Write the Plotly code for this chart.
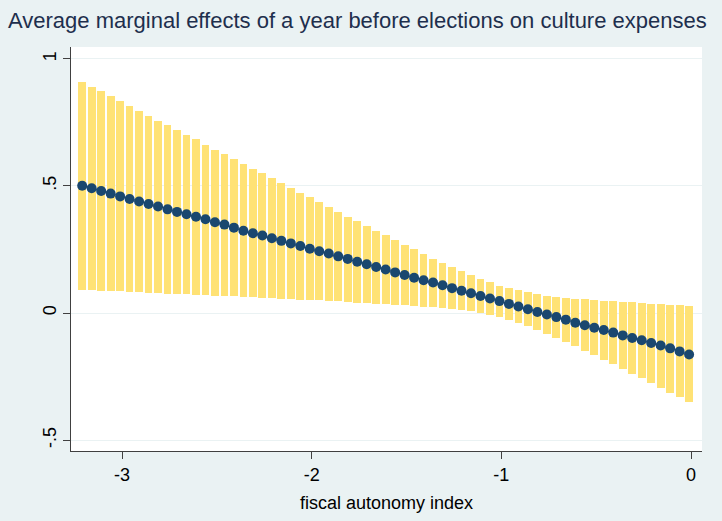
import plotly.graph_objects as go

fiscal_autonomy = [-3.21, -3.16, -3.11, -3.06, -3.01, -2.96, -2.91, -2.86, -2.81, -2.76,
                   -2.71, -2.66, -2.61, -2.56, -2.51, -2.46, -2.41, -2.36, -2.31, -2.26,
                   -2.21, -2.16, -2.11, -2.06, -2.01, -1.96, -1.91, -1.86, -1.81, -1.76,
                   -1.71, -1.66, -1.61, -1.56, -1.51, -1.46, -1.41, -1.36, -1.31, -1.26,
                   -1.21, -1.16, -1.11, -1.06, -1.01, -0.96, -0.91, -0.86, -0.81, -0.76,
                   -0.71, -0.66, -0.61, -0.56, -0.51, -0.46, -0.41, -0.36, -0.31, -0.26,
                   -0.21, -0.16, -0.11, -0.06, -0.01]

effect = [0.501, 0.491, 0.480, 0.470, 0.459, 0.449, 0.439, 0.429, 0.419, 0.408,
          0.398, 0.389, 0.379, 0.369, 0.357, 0.348, 0.336, 0.324, 0.314, 0.305,
          0.294, 0.284, 0.274, 0.264, 0.253, 0.243, 0.234, 0.223, 0.213, 0.202,
          0.192, 0.181, 0.171, 0.160, 0.150, 0.139, 0.129, 0.120, 0.109, 0.098,
          0.088, 0.078, 0.067, 0.057, 0.047, 0.036, 0.026, 0.015, 0.004, -0.006,
          -0.016, -0.026, -0.038, -0.048, -0.058, -0.067, -0.077, -0.088, -0.098, -0.107,
          -0.118, -0.128, -0.139, -0.151, -0.163]

ci_upper = [0.909, 0.891, 0.872, 0.853, 0.833, 0.815, 0.795, 0.777, 0.757, 0.739,
            0.719, 0.701, 0.683, 0.663, 0.643, 0.625, 0.606, 0.587, 0.568, 0.550,
            0.532, 0.511, 0.492, 0.474, 0.456, 0.436, 0.417, 0.398, 0.379, 0.361,
            0.343, 0.324, 0.306, 0.286, 0.269, 0.251, 0.232, 0.214, 0.198, 0.181,
            0.164, 0.148, 0.135, 0.121, 0.108, 0.097, 0.089, 0.081, 0.075, 0.069,
            0.065, 0.061, 0.057, 0.054, 0.051, 0.049, 0.046, 0.045, 0.042, 0.039,
            0.037, 0.034, 0.033, 0.030, 0.029]

ci_lower = [0.092, 0.089, 0.088, 0.087, 0.085, 0.083, 0.081, 0.080, 0.079, 0.076,
            0.075, 0.074, 0.072, 0.071, 0.068, 0.067, 0.066, 0.063, 0.062, 0.059,
            0.058, 0.055, 0.054, 0.053, 0.051, 0.050, 0.047, 0.046, 0.043, 0.041,
            0.039, 0.037, 0.036, 0.033, 0.030, 0.028, 0.025, 0.022, 0.020, 0.016,
            0.012, 0.007, -0.001, -0.009, -0.017, -0.028, -0.039, -0.051, -0.065, -0.081,
            -0.097, -0.114, -0.131, -0.148, -0.167, -0.184, -0.202, -0.220, -0.239, -0.257,
            -0.276, -0.295, -0.313, -0.332, -0.350]

x_ticks = [-3, -2, -1, 0]
x_ticklabels = ["-3", "-2", "-1", "0"]
y_ticks = [-0.5, 0, 0.5, 1]
y_ticklabels = ["-.5", "0", ".5", "1"]

title_text = "Average marginal effects of a year before elections on culture expenses"
x_title = "fiscal autonomy index"

FONT = "Liberation Sans, Arial, sans-serif"
BG = "#EAF2F3"
NAVY = "#1A476F"
GOLD = "#FFE275"

fig = go.Figure()
fig.add_trace(go.Bar(
    x=fiscal_autonomy,
    y=[u - l for u, l in zip(ci_upper, ci_lower)],
    base=ci_lower,
    width=0.041,
    marker=dict(color=GOLD, line=dict(width=0)),
    hoverinfo="skip",
    showlegend=False,
))
fig.add_trace(go.Scatter(
    x=fiscal_autonomy, y=effect,
    mode="lines+markers",
    line=dict(color=NAVY, width=1.2),
    marker=dict(color=NAVY, size=10),
    showlegend=False,
))

fig.update_layout(
    width=722, height=521,
    paper_bgcolor=BG, plot_bgcolor="white",
    margin=dict(l=71, r=20, t=47, b=70, autoexpand=False),
    font=dict(family=FONT, size=18, color="black"),
    title=dict(text=title_text, x=8 / 722, xanchor="left", xref="container",
               y=1 - 20 / 521, yanchor="middle", yref="container",
               pad=dict(l=0, r=0, t=0, b=0),
               font=dict(size=22, color="#1E2F4D", family=FONT)),
    bargap=0,
    annotations=[dict(text=x_title, xref="paper", yref="paper", x=0.5, y=-0.129,
                      xanchor="center", yanchor="middle", showarrow=False,
                      font=dict(size=18, color="black", family=FONT))],
)
fig.update_xaxes(
    range=[-3.269, 0.058], tickvals=x_ticks, ticktext=x_ticklabels,
    showgrid=False, zeroline=False, automargin=False,
    showline=True, linecolor="#404040", linewidth=1,
    ticks="outside", ticklen=7, tickcolor="#404040", tickwidth=1,
    tickfont=dict(size=18, color="black"),
)
fig.update_yaxes(
    range=[-0.543, 1.047], tickvals=y_ticks, ticktext=y_ticklabels,
    showgrid=True, gridcolor=BG, gridwidth=1, zeroline=False, automargin=False,
    showline=True, linecolor="#404040", linewidth=1,
    ticks="outside", ticklen=7, tickcolor="#404040", tickwidth=1,
    tickangle=-90, tickfont=dict(size=18, color="black"),
)

fig.write_html("out.html", config={"displayModeBar": False},
               post_script="document.body.style.margin='0';")
